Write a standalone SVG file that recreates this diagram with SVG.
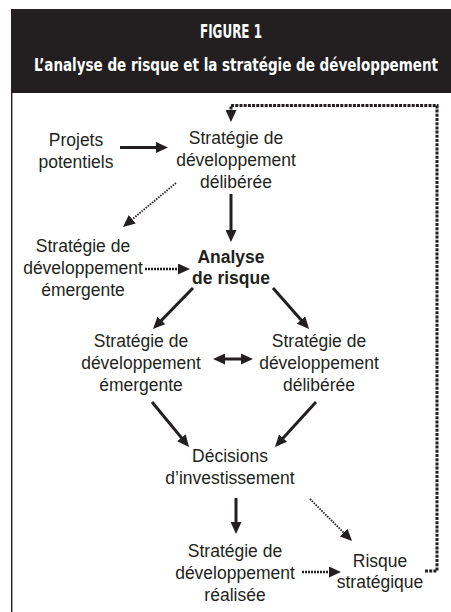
<svg xmlns="http://www.w3.org/2000/svg" width="451" height="612" viewBox="0 0 451 612">
<style>
.t{font-family:"Liberation Sans",Arial,sans-serif;font-size:17.5px;fill:#231f20;text-anchor:middle}
.b{font-weight:bold}
.h{font-family:"DejaVu Sans Condensed","Liberation Sans",sans-serif;font-weight:bold;fill:#ffffff;text-anchor:middle}
.s{fill:none;stroke:#231f20;stroke-width:3}
.d{fill:none;stroke:#231f20;stroke-width:2.6;stroke-dasharray:2 1}
.dt{fill:none;stroke:#231f20;stroke-width:1.8;stroke-dasharray:1.5 1.2}
.fb{fill:none;stroke:#231f20;stroke-width:3;stroke-dasharray:3 1.2}
</style>
<defs>
<marker id="ah" markerUnits="userSpaceOnUse" markerWidth="12" markerHeight="11" refX="8" refY="5.5" orient="auto-start-reverse" viewBox="0 0 12 11">
<path d="M0,0 L12,5.5 L0,11 z" fill="#231f20"/>
</marker>
</defs>
<g id="header">
<rect x="11" y="9" width="440" height="84" fill="#231f20"/>
<text class="h" transform="translate(231,38) scale(0.7,1)" x="0" y="0" font-size="19" textLength="88.6" lengthAdjust="spacingAndGlyphs">FIGURE 1</text>
<text class="h" transform="translate(236,71) scale(0.77,1)" x="0" y="0" font-size="18.5" textLength="524.7" lengthAdjust="spacingAndGlyphs">L’analyse de risque et la stratégie de développement</text>
</g>
<line x1="11.7" y1="92" x2="11.7" y2="612" stroke="#231f20" stroke-width="1.4"/>
<g id="connectors">
<line class="s" x1="120" y1="147.5" x2="164" y2="147.5" marker-end="url(#ah)"/>
<line class="s" x1="231" y1="194" x2="231" y2="238" marker-end="url(#ah)"/>
<line class="s" x1="193" y1="288" x2="155.8" y2="326.1" marker-end="url(#ah)"/>
<line class="s" x1="273" y1="288" x2="306.4" y2="326" marker-end="url(#ah)"/>
<line class="s" x1="217" y1="359" x2="249" y2="359" marker-start="url(#ah)" marker-end="url(#ah)"/>
<line class="s" x1="152" y1="402" x2="186.5" y2="443.9" marker-end="url(#ah)"/>
<line class="s" x1="316" y1="402" x2="277.7" y2="444" marker-end="url(#ah)"/>
<line class="s" x1="236" y1="498" x2="236" y2="530" marker-end="url(#ah)"/>
<line class="dt" x1="176" y1="183" x2="126.1" y2="224.4" marker-end="url(#ah)"/>
<line class="d" x1="145" y1="269" x2="186" y2="269" marker-end="url(#ah)"/>
<line class="dt" x1="310" y1="499" x2="349.2" y2="538.2" marker-end="url(#ah)"/>
<line class="d" x1="302" y1="572" x2="337" y2="572" marker-end="url(#ah)"/>
<polyline class="fb" points="425,571 437,571 437,105.5 231,105.5 231,118" marker-end="url(#ah)"/>
</g>
<g id="projets">
<text class="t" x="76" y="146">Projets</text>
<text class="t" x="76" y="168">potentiels</text>
</g>
<g id="strat-deliberee-1">
<text class="t" x="236" y="144">Stratégie de</text>
<text class="t" x="236" y="166">développement</text>
<text class="t" x="236" y="188">délibérée</text>
</g>
<g id="strat-emergente-1">
<text class="t" x="83" y="252">Stratégie de</text>
<text class="t" x="83" y="274">développement</text>
<text class="t" x="83" y="296">émergente</text>
</g>
<g id="analyse">
<text class="t b" x="231" y="263">Analyse</text>
<text class="t b" x="231" y="284">de risque</text>
</g>
<g id="strat-emergente-2">
<text class="t" x="141" y="347">Stratégie de</text>
<text class="t" x="141" y="369">développement</text>
<text class="t" x="141" y="391">émergente</text>
</g>
<g id="strat-deliberee-2">
<text class="t" x="319" y="347">Stratégie de</text>
<text class="t" x="319" y="369">développement</text>
<text class="t" x="319" y="391">délibérée</text>
</g>
<g id="decisions">
<text class="t" x="230" y="462">Décisions</text>
<text class="t" x="230" y="484">d’investissement</text>
</g>
<g id="strat-realisee">
<text class="t" x="235" y="557">Stratégie de</text>
<text class="t" x="235" y="579">développement</text>
<text class="t" x="235" y="601">réalisée</text>
</g>
<g id="risque">
<text class="t" x="380" y="567">Risque</text>
<text class="t" x="380" y="588">stratégique</text>
</g>
</svg>
